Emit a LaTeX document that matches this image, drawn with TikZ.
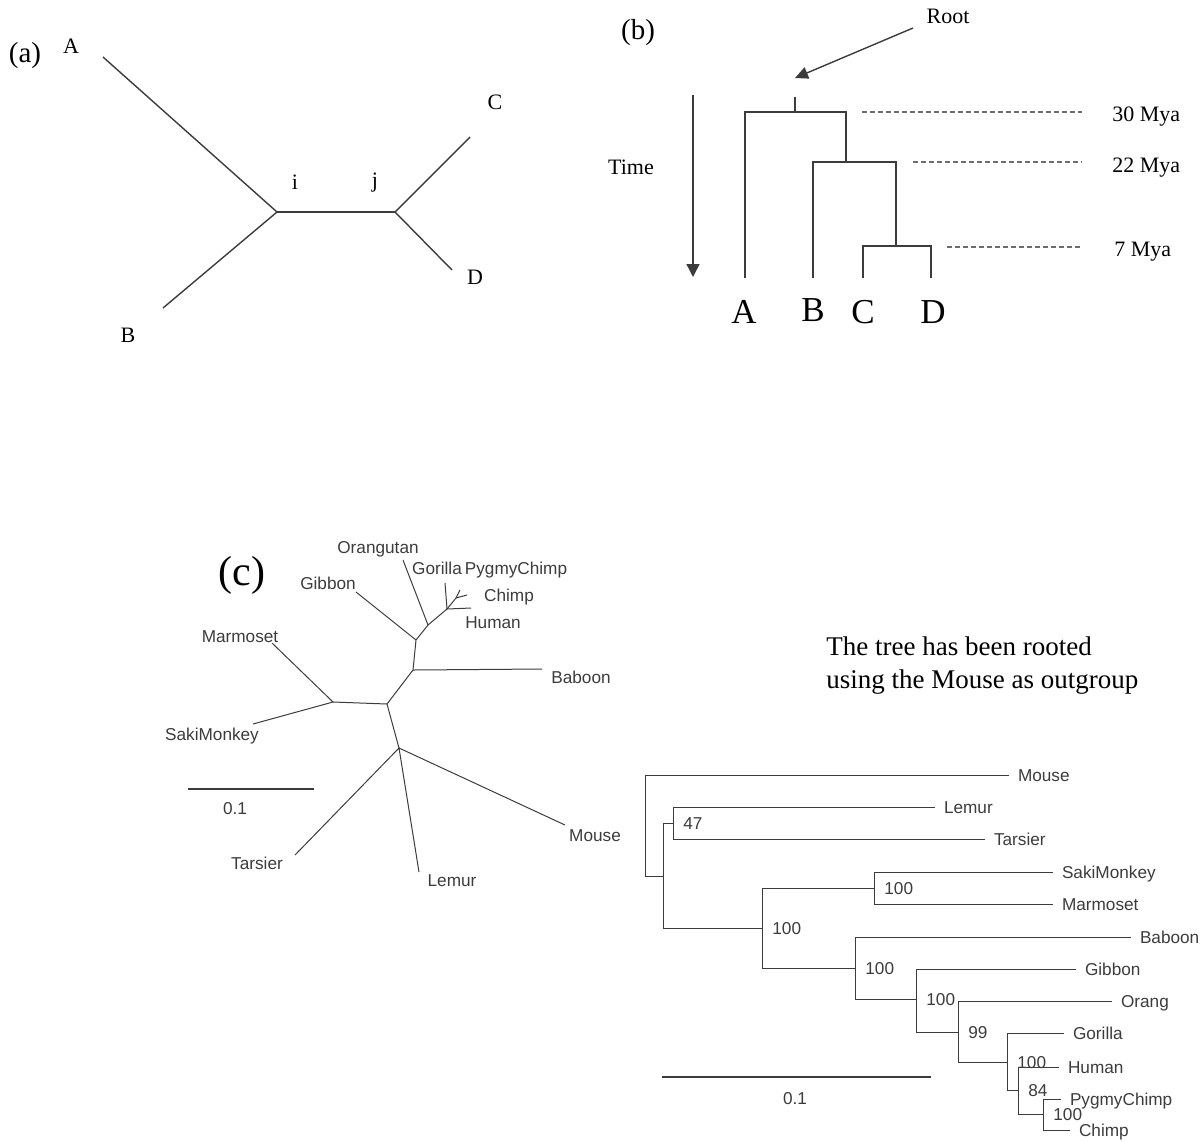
\documentclass[tikz,border=0pt]{standalone}
\usepackage{fontspec}
\setmainfont{Liberation Serif}
\setsansfont{Liberation Sans}
\usepackage{tikz}
\usetikzlibrary{arrows.meta}
\definecolor{inkgray}{HTML}{3C3C3C}
\colorlet{dashgray}{inkgray!75!white}

\tikzset{
  branch/.style={draw=inkgray, line width=0.7pt},
  twig/.style={draw=inkgray, line width=0.5pt},
  dashline/.style={draw=dashgray, line width=0.6pt, dash pattern=on 2.4pt off 1.6pt},
  panel/.style={font=\fontsize{14.5}{16}\selectfont, inner sep=0pt},
  letter/.style={font=\fontsize{11}{13}\selectfont, inner sep=0pt},
  bigletter/.style={font=\fontsize{17.5}{20}\selectfont, inner sep=0pt},
  taxon/.style={font=\sffamily\fontsize{8.6}{10}\selectfont, text=inkgray,
    inner sep=0pt, text height=6.2pt, text depth=0pt},
  leaf/.style={taxon, anchor=west, inner xsep=4.3pt},
  boot/.style={taxon, anchor=west, inner xsep=5pt},
}

\begin{document}
\begin{tikzpicture}[x=0.5pt, y=-0.5pt]
  \useasboundingbox (0,0) rectangle (1203,1141);

  % (a) unrooted four-taxon tree
  \node[panel] (pa) at (25,56) {(a)};
  \coordinate (ai) at (277,212);
  \coordinate (aj) at (395,212);
  \coordinate (atA) at (103,57);
  \coordinate (atB) at (163,308);
  \coordinate (atC) at (470,137);
  \coordinate (atD) at (452,270);
  \draw[branch] (atA) -- (ai) -- (atB);
  \draw[branch, line width=1.3pt] (ai) -- (aj);
  \draw[branch] (atC) -- (aj) -- (atD);
  \node[letter] (laA) at (71,46) {A};
  \node[letter] (laB) at (128,335) {B};
  \node[letter] (laC) at (495,102) {C};
  \node[letter] (laD) at (475,277) {D};
  \node[letter] (lai) at (295,182) {i};
  \node[letter] (laj) at (375,183) {j};

  % (b) rooted tree with time axis
  \node[panel] (pb) at (638,33) {(b)};
  \node[letter] (root) at (948,16) {Root};
  \coordinate (rootfrom) at (913,28);
  \coordinate (roottip) at (795,78);
  \draw[branch, -{Triangle[length=6.5pt, width=6pt]}] (rootfrom) -- (roottip);
  \node[letter] (time) at (631,167) {Time};
  \coordinate (tstart) at (693,95);
  \coordinate (tend) at (693,277);
  \draw[branch, -{Triangle[length=6.5pt, width=6.5pt]}] (tstart) -- (tend);
  \coordinate (btop) at (795,97);
  \coordinate (broot) at (795,112);
  \coordinate (bx) at (846,162);
  \coordinate (by) at (896,246);
  \coordinate (btA) at (745,278);
  \coordinate (btB) at (813,278);
  \coordinate (btC) at (863,278);
  \coordinate (btD) at (931,278);
  \draw[branch] (btop) -- (broot) -| (btA);
  \draw[branch] (broot) -| (bx) -| (btB);
  \draw[branch] (bx) -| (by) -| (btC);
  \draw[branch] (by) -| (btD);
  \node[bigletter] (lbA) at (744,312) {A};
  \node[bigletter] (lbB) at (813,310) {B};
  \node[bigletter] (lbC) at (863,312) {C};
  \node[bigletter] (lbD) at (933,312) {D};
  \coordinate (d30a) at (862,112);
  \coordinate (d30b) at (1082,112);
  \coordinate (d22a) at (913,162);
  \coordinate (d22b) at (1082,162);
  \coordinate (d7a) at (947,247);
  \coordinate (d7b) at (1080,247);
  \draw[dashline] (d30a) -- (d30b);
  \draw[dashline] (d22a) -- (d22b);
  \draw[dashline] (d7a) -- (d7b);
  \node[letter, anchor=west] (m30) at (1112,117) {30 Mya};
  \node[letter, anchor=west] (m22) at (1112,168) {22 Mya};
  \node[letter, anchor=west] (m7) at (1114,252) {7 Mya};

  % (c) unrooted primate tree
  \node[panel, font=\fontsize{21}{24}\selectfont] (pc) at (242,575) {(c)};
  \coordinate (u1) at (333,702);
  \coordinate (u2) at (387,704);
  \coordinate (u3) at (413,670);
  \coordinate (u4) at (416,640);
  \coordinate (u5) at (428,625);
  \coordinate (u6) at (447,609);
  \coordinate (u7) at (399,748);
  \coordinate (u8) at (456,598);
  \coordinate (umarm) at (272,643);
  \coordinate (usaki) at (253,724);
  \coordinate (ubab) at (542,669);
  \coordinate (ugib) at (356,592);
  \coordinate (uora) at (403,560);
  \coordinate (ugor) at (445,583);
  \coordinate (uhum) at (471,608);
  \coordinate (upyg) at (460,590);
  \coordinate (uchi) at (467,595);
  \coordinate (umou) at (565,825);
  \coordinate (utar) at (295,855);
  \coordinate (ulem) at (419,872);
  \draw[twig] (umarm) -- (u1) -- (usaki);
  \draw[twig] (u1) -- (u2) -- (u3) -- (u4) -- (u5) -- (u6);
  \draw[twig] (u3) -- (ubab);
  \draw[twig] (u4) -- (ugib);
  \draw[twig] (u5) -- (uora);
  \draw[twig] (ugor) -- (u6) -- (uhum);
  \draw[twig] (u6) -- (u8) -- (upyg);
  \draw[twig] (u8) -- (uchi);
  \draw[twig] (u2) -- (u7) -- (umou);
  \draw[twig] (utar) -- (u7) -- (ulem);
  \node[taxon] (nora) at (378,547) {Orangutan};
  \node[taxon] (ngor) at (437,568) {Gorilla};
  \node[taxon] (npyg) at (516,568) {PygmyChimp};
  \node[taxon] (nchi) at (509,595) {Chimp};
  \node[taxon] (nhum) at (493,622) {Human};
  \node[taxon] (ngib) at (328,583) {Gibbon};
  \node[taxon] (nmarm) at (240,636) {Marmoset};
  \node[taxon] (nbab) at (581,677) {Baboon};
  \node[taxon] (nsaki) at (212,734) {SakiMonkey};
  \node[taxon] (nmou) at (595,835) {Mouse};
  \node[taxon] (ntar) at (257,863) {Tarsier};
  \node[taxon] (nlem) at (452,880) {Lemur};
  \coordinate (us0) at (188,789);
  \coordinate (us1) at (314,789);
  \draw[twig, line width=0.6pt] (us0) -- (us1);
  \node[taxon] (nus) at (235,808) {0.1};

  \node[letter, font=\fontsize{13.5}{16.5}\selectfont, anchor=west, align=left] (note)
    at (826,666) {The tree has been rooted\\using the Mouse as outgroup};

  % rooted primate tree
  \coordinate (r0) at (645,876);
  \coordinate (q1) at (663,876);
  \coordinate (q2) at (673,823);
  \coordinate (q3) at (762,928);
  \coordinate (q4) at (874,888);
  \coordinate (q5) at (855,968);
  \coordinate (q6) at (916,999);
  \coordinate (q7) at (958,1032);
  \coordinate (q8) at (1007,1062);
  \coordinate (q9) at (1018,1090);
  \coordinate (q10) at (1043,1114);
  \node[leaf] (mouse) at (1009,775) {Mouse};
  \node[leaf] (lemur) at (935,807) {Lemur};
  \node[leaf] (tarsier) at (985,839) {Tarsier};
  \node[leaf] (saki) at (1053,872) {SakiMonkey};
  \node[leaf] (marm) at (1053,904) {Marmoset};
  \node[leaf] (baboon) at (1131,937) {Baboon};
  \node[leaf] (gibbon) at (1076,969) {Gibbon};
  \node[leaf] (orang) at (1112,1001) {Orang};
  \node[leaf] (gorilla) at (1064,1033) {Gorilla};
  \node[leaf] (human) at (1059,1067) {Human};
  \node[leaf] (pygmy) at (1061,1099) {PygmyChimp};
  \node[leaf] (chimp) at (1070,1130) {Chimp};
  \draw[twig] (r0) |- (mouse);
  \draw[twig] (r0) -- (q1);
  \draw[twig] (q1) |- (q2);
  \draw[twig] (q1) |- (q3);
  \draw[twig] (q2) |- (lemur);
  \draw[twig] (q2) |- (tarsier);
  \draw[twig] (q3) |- (q4);
  \draw[twig] (q3) |- (q5);
  \draw[twig] (q4) |- (saki);
  \draw[twig] (q4) |- (marm);
  \draw[twig] (q5) |- (baboon);
  \draw[twig] (q5) |- (q6);
  \draw[twig] (q6) |- (gibbon);
  \draw[twig] (q6) |- (q7);
  \draw[twig] (q7) |- (orang);
  \draw[twig] (q7) |- (q8);
  \draw[twig] (q8) |- (gorilla);
  \draw[twig] (q8) |- (q9);
  \draw[twig] (q9) |- (human);
  \draw[twig] (q9) |- (q10);
  \draw[twig] (q10) |- (pygmy);
  \draw[twig] (q10) |- (chimp);
  \node[boot] (b2) at (q2) {47};
  \node[boot] (b3) at (q3) {100};
  \node[boot] (b4) at (q4) {100};
  \node[boot] (b5) at (q5) {100};
  \node[boot] (b6) at (q6) {100};
  \node[boot] (b7) at (q7) {99};
  \node[boot] (b8) at (q8) {100};
  \node[boot] (b9) at (q9) {84};
  \node[boot] (b10) at (q10) {100};
  \coordinate (rs0) at (662,1077);
  \coordinate (rs1) at (931,1077);
  \draw[twig, line width=0.6pt] (rs0) -- (rs1);
  \node[taxon] (nrs) at (795,1098) {0.1};
\end{tikzpicture}
\end{document}
